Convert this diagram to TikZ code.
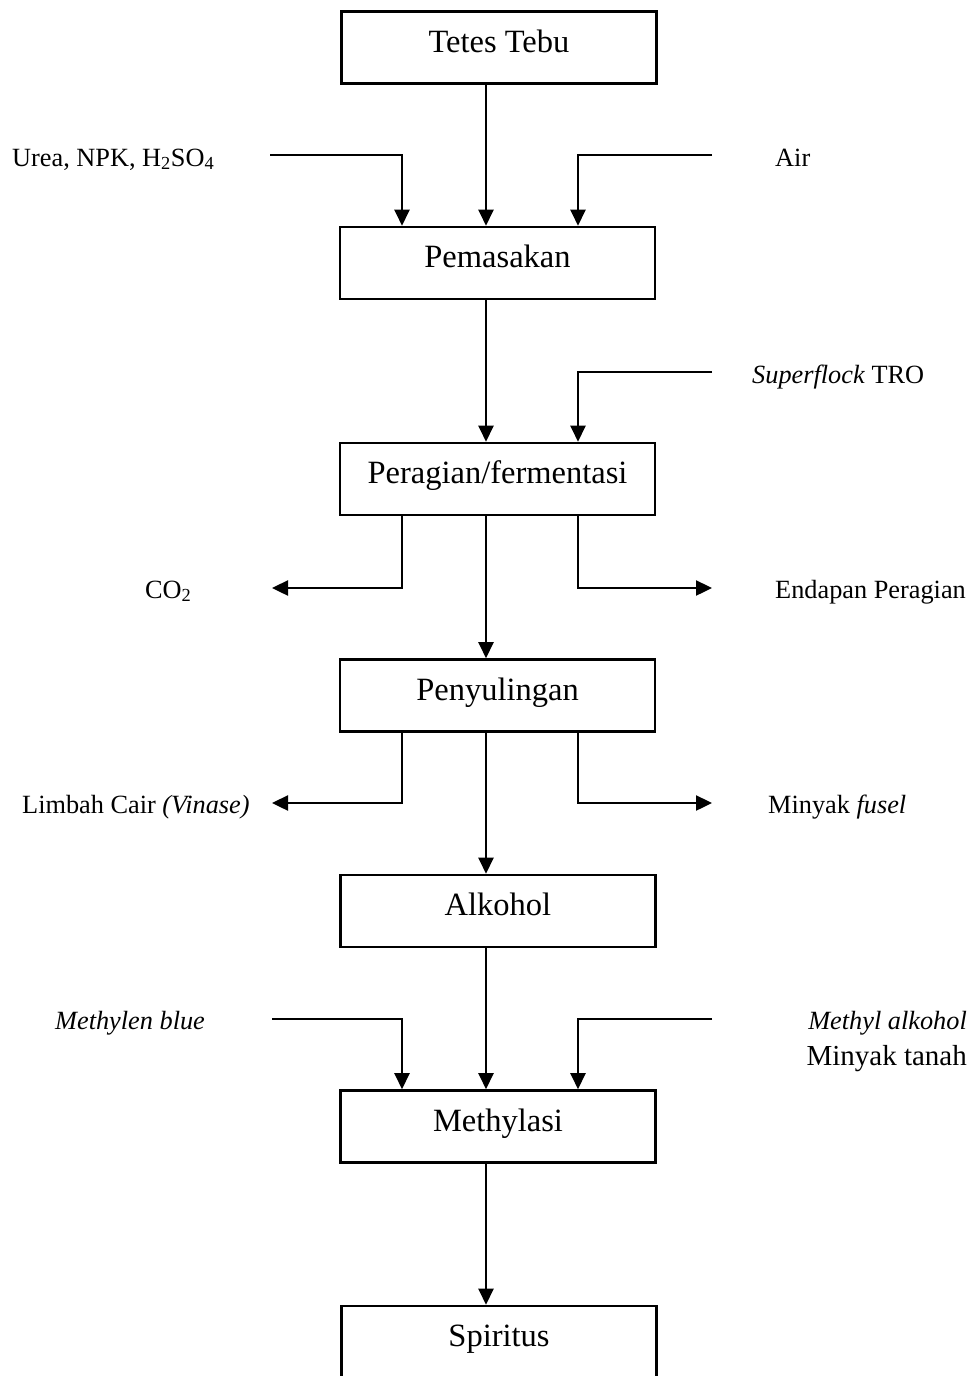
\documentclass[tikz,border=0pt]{standalone}
\usepackage{fontspec}
\setmainfont{Liberation Serif}
\usetikzlibrary{arrows.meta}
\begin{document}
\begin{tikzpicture}[x=1pt,y=-1pt,
  procbox/.style={draw,line width=2.6pt,minimum width=315pt,minimum height=72pt,inner sep=0pt,
    text height=22pt,text depth=13pt,font=\fontsize{32.5}{36}\selectfont},
  flow/.style={line width=2.4pt},
  arr/.style={flow,-{Triangle[length=16pt,width=15pt]}},
  lbl/.style={inner sep=0pt,font=\fontsize{26.3}{30}\selectfont},
  biglbl/.style={inner sep=0pt,font=\fontsize{29}{33}\selectfont}]
\useasboundingbox (0,0) rectangle (977,1376);
\clip (0,0) rectangle (977,1376);
% boxes
\node[procbox] (tetes) at (499,47.5) {Tetes Tebu};
\node[procbox] (pem) at (497.5,263) {Pemasakan};
\node[procbox] (per) at (497.5,479) {Peragian/fermentasi};
\node[procbox] (pen) at (497.5,695.5) {Penyulingan};
\node[procbox] (alk) at (498,911) {Alkohol};
\node[procbox] (met) at (498,1126.5) {Methylasi};
\node[procbox] (spi) at (499,1342) {Spiritus};
% x positions of the lines
\coordinate (mx) at (486,0);
\coordinate (lx) at (402,0);
\coordinate (rx) at (578,0);
% labels
\node[lbl,anchor=base west] (urea) at (12,166) {Urea, NPK, H\textsubscript{2}SO\textsubscript{4}};
\node[lbl,anchor=base west] (air) at (775,166) {Air};
\node[lbl,anchor=base west] (sfl) at (752,383) {\textit{Superflock} TRO};
\node[lbl,anchor=base west] (co2) at (145,598) {CO\textsubscript{2}};
\node[lbl,anchor=base west] (end) at (775,598) {Endapan Peragian};
\node[lbl,anchor=base west] (lim) at (22,813) {Limbah Cair \textit{(Vinase)}};
\node[lbl,anchor=base west] (fus) at (768,813) {Minyak \textit{fusel}};
\node[lbl,anchor=base west] (mbl) at (55,1029) {\textit{Methylen blue}};
\node[lbl,anchor=base east] (mal) at (967,1029) {\textit{Methyl alkohol}};
\node[biglbl,anchor=base east] (mta) at (967,1065) {Minyak tanah};
% free ends of side lines
\coordinate (ureaE) at (270,155);
\coordinate (airE) at (712,155);
\coordinate (sflE) at (712,372);
\coordinate (co2E) at (272,588);
\coordinate (endE) at (712,588);
\coordinate (limE) at (272,803);
\coordinate (fusE) at (712,803);
\coordinate (mblE) at (272,1019);
\coordinate (malE) at (712,1019);
% main flow
\draw[arr] (tetes.south -| mx) -- (pem.north -| mx);
\draw[arr] (pem.south -| mx) -- (per.north -| mx);
\draw[arr] (per.south -| mx) -- (pen.north -| mx);
\draw[arr] (pen.south -| mx) -- (alk.north -| mx);
\draw[arr] (alk.south -| mx) -- (met.north -| mx);
\draw[arr] (met.south -| mx) -- (spi.north -| mx);
% inputs
\draw[arr] (ureaE) -| (pem.north -| lx);
\draw[arr] (airE) -| (pem.north -| rx);
\draw[arr] (sflE) -| (per.north -| rx);
\draw[arr] (mblE) -| (met.north -| lx);
\draw[arr] (malE) -| (met.north -| rx);
% outputs
\draw[arr] (per.south -| lx) |- (co2E);
\draw[arr] (per.south -| rx) |- (endE);
\draw[arr] (pen.south -| lx) |- (limE);
\draw[arr] (pen.south -| rx) |- (fusE);
\end{tikzpicture}
\end{document}
